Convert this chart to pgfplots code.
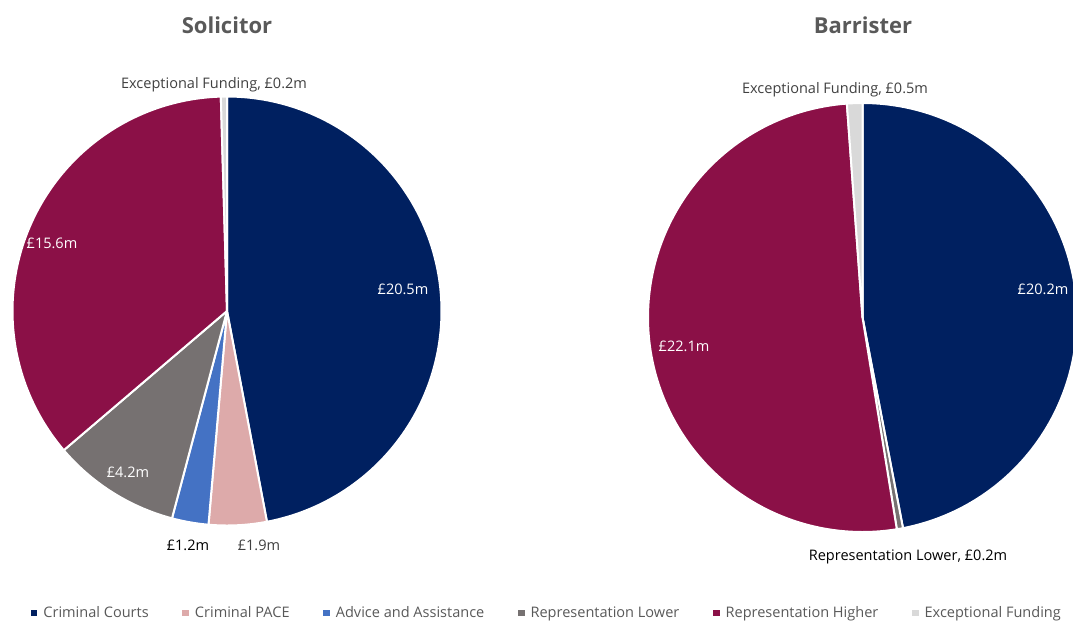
\documentclass[border=0pt]{standalone}
\usepackage{pgfplots}
\usepackage{pgfplotstable}
\pgfplotsset{compat=1.18}
\usepackage{fontspec}
\setmainfont{Open Sans}

\definecolor{ccourts}{RGB}{0,32,96}
\definecolor{cpace}{RGB}{221,170,170}
\definecolor{cadvice}{RGB}{68,114,196}
\definecolor{creplow}{RGB}{118,113,113}
\definecolor{crephigh}{RGB}{139,16,71}
\definecolor{cexcept}{RGB}{217,217,217}
\definecolor{titlegray}{RGB}{89,89,89}
\definecolor{labgray}{RGB}{64,64,64}

% Solicitor (GBP m)
\pgfplotstableread{
value color
20.5 ccourts
1.9 cpace
1.2 cadvice
4.2 creplow
15.6 crephigh
0.2 cexcept
}\soltable

% Barrister (GBP m)
\pgfplotstableread{
value color
20.2 ccourts
0.2 creplow
22.1 crephigh
0.5 cexcept
}\bartable

% #1 table, #2 cx, #3 cy, #4 r, #5 extra options
\newcommand\drawpie[5]{%
  \pgfplotstablegetrowsof{#1}%
  \pgfmathtruncatemacro\nlast{\pgfplotsretval-1}%
  \def\pietotal{0}%
  \pgfplotsforeachungrouped \i in {0,...,\nlast}{%
    \pgfplotstablegetelem{\i}{value}\of{#1}%
    \pgfmathsetmacro\pietotal{\pietotal+\pgfplotsretval}}%
  \def\piecum{0}%
  \pgfplotsforeachungrouped \i in {0,...,\nlast}{%
    \pgfplotstablegetelem{\i}{value}\of{#1}\let\sliceval\pgfplotsretval
    \pgfplotstablegetelem{\i}{color}\of{#1}\let\slicecol\pgfplotsretval
    \pgfmathsetmacro\astart{90-360*\piecum/\pietotal}%
    \pgfmathsetmacro\piecum{\piecum+\sliceval}%
    \pgfmathsetmacro\aend{90-360*\piecum/\pietotal}%
    \edef\piecmd{\noexpand\addplot[fill=\slicecol, draw=white, line width=1.5pt, line join=round, domain=\aend:\astart, samples=120, #5] ({#2+#4*cos(x)},{#3-#4*sin(x)}) -- (axis cs:#2,#3) -- cycle;}%
    \piecmd}%
}

\begin{document}
\begin{tikzpicture}
\begin{axis}[
  hide axis, scale only axis,
  x=0.75pt, y=0.75pt, y dir=reverse,
  xmin=0, xmax=1073, ymin=0, ymax=622,
  clip=true,
  legend columns=6,
  legend style={at={(axis cs:547,613)}, anchor=center, draw=none, fill=none,
    font=\fontsize{10.9}{13}\selectfont, text=titlegray,
    /tikz/every odd column/.append style={column sep=2.5pt},
    /tikz/every even column/.append style={column sep=23pt}},
  legend image code/.code={\path[#1,draw=none] (0pt,-2.6pt) rectangle (5.2pt,2.6pt);},
  legend entries={Criminal Courts, Criminal PACE, Advice and Assistance, Representation Lower, Representation Higher, Exceptional Funding},
]
\drawpie{\soltable}{227}{311}{214.5}{}
\drawpie{\bartable}{862.5}{317.5}{214.5}{forget plot}

\node[font=\fontsize{16.5}{20}\selectfont\bfseries, text=titlegray] at (axis cs:227,25) {Solicitor};
\node[font=\fontsize{16.5}{20}\selectfont\bfseries, text=titlegray] at (axis cs:863,25) {Barrister};

\begin{scope}[every node/.style={font=\fontsize{10.9}{13}\selectfont}]
\node[text=white] at (axis cs:403,289) {£20.5m};
\node[text=white] at (axis cs:52,243) {£15.6m};
\node[text=white] at (axis cs:128,472) {£4.2m};
\node[text=black] at (axis cs:188,545) {£1.2m};
\node[text=labgray] at (axis cs:259,545) {£1.9m};
\node[text=labgray] at (axis cs:214,85) {Exceptional Funding, £0.2m};
\node[text=white] at (axis cs:1043,289) {£20.2m};
\node[text=white] at (axis cs:684,346) {£22.1m};
\node[text=labgray] at (axis cs:835,90) {Exceptional Funding, £0.5m};
\node[text=black] at (axis cs:908,557) {Representation Lower, £0.2m};
\end{scope}
\end{axis}
\pgfresetboundingbox
\path[use as bounding box] (current axis.south west) rectangle (current axis.north east);
\end{tikzpicture}
\end{document}
